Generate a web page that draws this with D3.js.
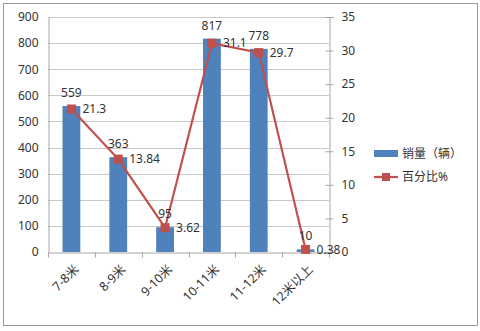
<!DOCTYPE html>
<html>
<head>
<meta charset="utf-8">
<script src="https://cdn.jsdelivr.net/npm/d3@7"></script>
<style>
  html, body { margin: 0; padding: 0; background: #fff; }
  svg { display: block; }
  text { font-family: "Noto Sans", "Noto Sans CJK SC", sans-serif; font-size: 12px; fill: #333; }
</style>
</head>
<body>
<svg id="chart" width="480" height="331"></svg>
<script>
// Bus sales by length class
const categories = ["7-8米", "8-9米", "9-10米", "10-11米", "11-12米", "12米以上"];
const sales = [559, 363, 95, 817, 778, 10];
const percent = [21.3, 13.84, 3.62, 31.1, 29.7, 0.38];
const percentLabels = ["21.3", "13.84", "3.62", "31.1", "29.7", "0.38"];
const leftTicks = [0, 100, 200, 300, 400, 500, 600, 700, 800, 900];
const rightTicks = [0, 5, 10, 15, 20, 25, 30, 35];
const legendLabels = ["销量（辆）", "百分比%"];

const svg = d3.select("#chart");
const plot = { left: 48, right: 329, top: 17, bottom: 252 };
const barColor = "#4F81BD", lineColor = "#C0504D", gridColor = "#C8C8C8", axisColor = "#A6A6A6";

// outer frame
svg.append("rect").attr("x", 3.5).attr("y", 3.5).attr("width", 474).attr("height", 322)
  .attr("fill", "none").attr("stroke", "#9A9A9A").attr("stroke-width", 1);

const x = d3.scaleBand().domain(categories).range([plot.left, plot.right]).paddingInner(0.62).paddingOuter(0.31);
const xc = d3.scaleBand().domain(categories).range([plot.left, plot.right]);
const yL = d3.scaleLinear().domain([0, 900]).range([plot.bottom, plot.top]);
const yR = d3.scaleLinear().domain([0, 35]).range([plot.bottom, plot.top]);

// gridlines
svg.append("g").selectAll("line").data(leftTicks.filter(d => d > 0)).join("line")
  .attr("x1", plot.left).attr("x2", plot.right)
  .attr("y1", d => Math.round(yL(d)) + 0.5).attr("y2", d => Math.round(yL(d)) + 0.5)
  .attr("stroke", gridColor).attr("stroke-width", 1);

// left axis
const axL = svg.append("g").attr("transform", `translate(${plot.left + 0.5},0)`)
  .call(d3.axisLeft(yL).tickValues(leftTicks).tickSize(0).tickPadding(10));
axL.select(".domain").attr("stroke", axisColor);
axL.selectAll("text").style("font-size", "12px").attr("fill", "#333");

// right axis
const axR = svg.append("g").attr("transform", `translate(${plot.right + 0.5},0)`)
  .call(d3.axisRight(yR).tickValues(rightTicks).tickSize(4).tickPadding(8));
axR.select(".domain").attr("stroke", axisColor);
axR.selectAll(".tick line").attr("stroke", axisColor).attr("x1", -4);
axR.selectAll("text").style("font-size", "12px").attr("fill", "#333");

// bottom axis
const axB = svg.append("g").attr("transform", `translate(0,${plot.bottom + 0.5})`)
  .call(d3.axisBottom(xc).tickSize(0).tickFormat(""));
axB.select(".domain").attr("stroke", axisColor);
const boundaries = d3.range(categories.length + 1).map(i => plot.left + i * xc.step());
axB.selectAll(".bnd").data(boundaries).join("line").attr("class", "bnd")
  .attr("x1", d => Math.round(d) + 0.5).attr("x2", d => Math.round(d) + 0.5)
  .attr("y1", 0).attr("y2", 5).attr("stroke", axisColor);

// category labels, rotated
svg.append("g").selectAll("text").data(categories).join("text")
  .attr("transform", d => `translate(${xc(d) + xc.bandwidth() / 2 + 5},${plot.bottom + 15}) rotate(-45)`)
  .attr("text-anchor", "end").attr("dy", "0.35em")
  .style("font-size", "12.5px")
  .text(d => d);

// bars
svg.append("g").selectAll("rect").data(sales).join("rect")
  .attr("x", (d, i) => x(categories[i]))
  .attr("width", x.bandwidth())
  .attr("y", d => yL(d))
  .attr("height", d => plot.bottom - yL(d))
  .attr("fill", barColor);

// percentage line
const cx = i => xc(categories[i]) + xc.bandwidth() / 2;
const line = d3.line().x((d, i) => cx(i)).y(d => yR(d));
svg.append("path").datum(percent).attr("d", line)
  .attr("fill", "none").attr("stroke", lineColor).attr("stroke-width", 2.2);
svg.append("g").selectAll("rect").data(percent).join("rect")
  .attr("x", (d, i) => cx(i) - 4.5).attr("y", d => yR(d) - 4.5)
  .attr("width", 9).attr("height", 9).attr("fill", lineColor);

// bar value labels
svg.append("g").selectAll("text").data(sales).join("text")
  .attr("x", (d, i) => cx(i))
  .attr("y", d => yL(d) - 9)
  .attr("text-anchor", "middle")
  .text(d => d);

// percentage labels
svg.append("g").selectAll("text").data(percent).join("text")
  .attr("x", (d, i) => cx(i) + 11)
  .attr("y", d => yR(d))
  .attr("dy", "0.35em")
  .text((d, i) => percentLabels[i]);

// legend
const lg = svg.append("g").attr("transform", "translate(374,0)");
lg.append("rect").attr("x", 0).attr("y", 150).attr("width", 24).attr("height", 7).attr("fill", barColor);
lg.append("text").attr("x", 28).attr("y", 153.5).attr("dy", "0.35em").text(legendLabels[0]);
lg.append("line").attr("x1", 0).attr("x2", 24).attr("y1", 177).attr("y2", 177)
  .attr("stroke", lineColor).attr("stroke-width", 2.2);
lg.append("rect").attr("x", 8).attr("y", 173).attr("width", 8).attr("height", 8).attr("fill", lineColor);
lg.append("text").attr("x", 28).attr("y", 177).attr("dy", "0.35em").text(legendLabels[1]);
</script>
</body>
</html>
